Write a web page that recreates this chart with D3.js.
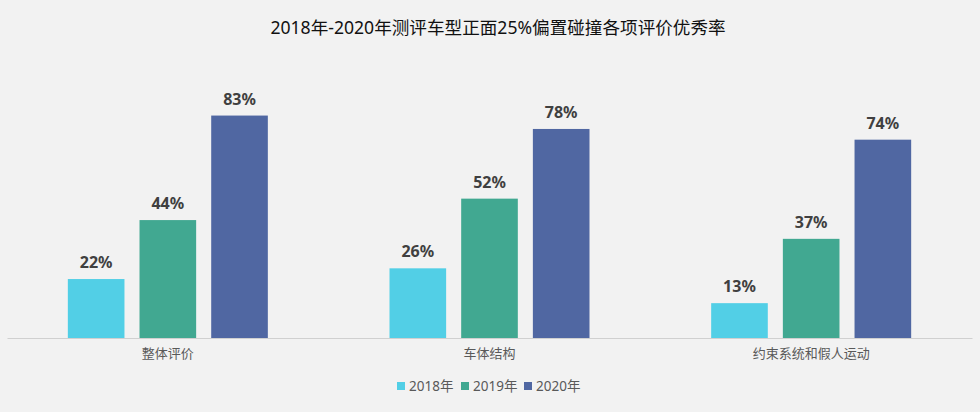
<!DOCTYPE html>
<html>
<head>
<meta charset="utf-8">
<script src="https://cdn.jsdelivr.net/npm/d3@7"></script>
<style>
  html, body { margin: 0; padding: 0; background: #f2f2f2; }
  svg { display: block; font-family: "Noto Sans", "Noto Sans CJK SC", sans-serif; }
</style>
</head>
<body>
<svg id="chart" width="980" height="412"></svg>
<script>
// 数据
const categories = ["整体评价", "车体结构", "约束系统和假人运动"];
const seriesNames = ["2018年", "2019年", "2020年"];
const values2018 = [22, 26, 13];
const values2019 = [44, 52, 37];
const values2020 = [83, 78, 74];
const colors = ["#52cfe6", "#41a891", "#5067a2"];

const allValues = [values2018, values2019, values2020];

const width = 980, height = 412;
const svg = d3.select("#chart");

svg.append("rect")
    .attr("width", width)
    .attr("height", height)
    .attr("fill", "#f2f2f2");

// 标题
svg.append("text")
    .attr("x", 498)
    .attr("y", 34)
    .attr("text-anchor", "middle")
    .style("font-size", "17.6px")
    .attr("fill", "#111")
    .text("2018年-2020年测评车型正面25%偏置碰撞各项评价优秀率");

// 比例尺
const x0 = d3.scaleBand()
    .domain(categories)
    .range([7, 972]);

const x1 = d3.scaleBand()
    .domain(seriesNames)
    .range([0, 200])
    .paddingInner(0.21);

const y = d3.scaleLinear()
    .domain([0, 100])
    .range([338, 70]);

// 柱子
const groups = svg.selectAll(".group")
    .data(categories)
    .join("g")
    .attr("class", "group")
    .attr("transform", d => `translate(${x0(d) + x0.bandwidth() / 2 - 100},0)`);

groups.selectAll("rect")
    .data((c, i) => seriesNames.map((s, j) => ({ s, j, v: allValues[j][i] })))
    .join("rect")
    .attr("x", d => x1(d.s))
    .attr("width", x1.bandwidth())
    .attr("y", d => y(d.v))
    .attr("height", d => y(0) - y(d.v))
    .attr("fill", d => colors[d.j]);

// 数据标签
groups.selectAll(".label")
    .data((c, i) => seriesNames.map((s, j) => ({ s, j, v: allValues[j][i] })))
    .join("text")
    .attr("class", "label")
    .attr("x", d => x1(d.s) + x1.bandwidth() / 2)
    .attr("y", d => y(d.v) - 11)
    .attr("text-anchor", "middle")
    .style("font-size", "16px")
    .style("font-weight", "bold")
    .attr("fill", "#404040")
    .text(d => d.v + "%");

// 坐标轴
const xAxis = svg.append("g")
    .attr("transform", `translate(0,${y(0)})`)
    .call(d3.axisBottom(x0).tickSize(0).tickPadding(11));
xAxis.select(".domain").attr("stroke", "#d0d0d0").attr("stroke-width", 1.2);
xAxis.selectAll("text")
    .style("font-size", "13px")
    .style("font-family", "\"Noto Sans CJK SC\", sans-serif")
    .attr("fill", "#595959");

// 图例
const legend = svg.append("g").attr("transform", "translate(397,386)");
const legendStep = [0, 64, 127];
const items = legend.selectAll("g")
    .data(seriesNames)
    .join("g")
    .attr("transform", (d, i) => `translate(${legendStep[i]},0)`);
items.append("rect")
    .attr("x", 0)
    .attr("y", -4)
    .attr("width", 8)
    .attr("height", 8)
    .attr("fill", (d, i) => colors[i]);
items.append("text")
    .attr("x", 12)
    .attr("y", 5)
    .style("font-size", "13.5px")
    .attr("fill", "#595959")
    .text(d => d);
</script>
</body>
</html>
